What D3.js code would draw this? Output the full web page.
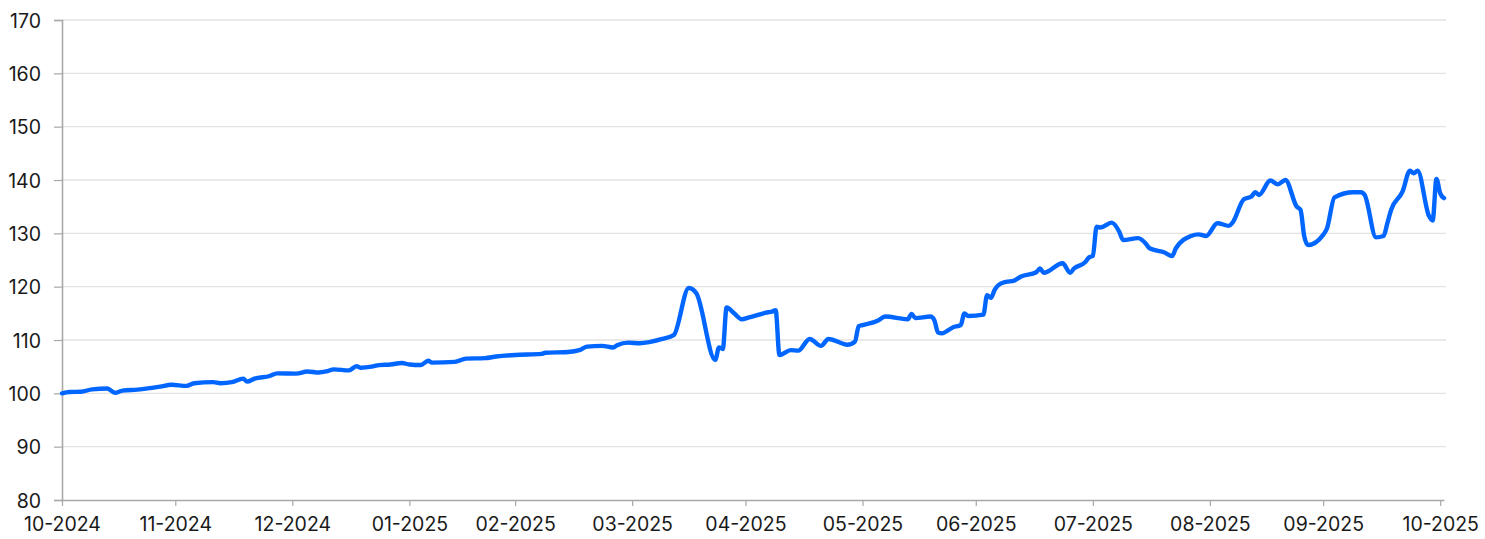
<!DOCTYPE html>
<html>
<head>
<meta charset="utf-8">
<script src="https://cdn.jsdelivr.net/npm/d3@7"></script>
<style>
  html, body { margin: 0; padding: 0; background: #ffffff; }
  svg { display: block; }
  .tick text { font-family: "Inter", "Liberation Sans", Arial, sans-serif; font-size: 19.5px; fill: #1a1a1a; }
</style>
</head>
<body>
<svg id="chart" width="1485" height="539"></svg>
<script>
// ---- data ----
const dates = [
  "2024-10-31","2024-11-02","2024-11-05","2024-11-08","2024-11-12","2024-11-14","2024-11-16","2024-11-20","2024-11-26","2024-11-29",
  "2024-12-03","2024-12-05","2024-12-10","2024-12-12","2024-12-15","2024-12-18","2024-12-19","2024-12-21","2024-12-25","2024-12-27",
  "2025-01-01","2025-01-04","2025-01-07","2025-01-09","2025-01-11","2025-01-15","2025-01-17","2025-01-18","2025-01-21","2025-01-23",
  "2025-01-26","2025-01-29","2025-01-31","2025-02-03","2025-02-05","2025-02-06","2025-02-12","2025-02-15","2025-02-20","2025-02-23",
  "2025-02-28","2025-03-07","2025-03-08","2025-03-14","2025-03-17","2025-03-19","2025-03-23","2025-03-26","2025-03-27","2025-03-30",
  "2025-04-02","2025-04-08","2025-04-11","2025-04-15","2025-04-17","2025-04-22","2025-04-23","2025-04-24","2025-04-25","2025-04-27",
  "2025-04-29","2025-05-01","2025-05-06","2025-05-07","2025-05-08","2025-05-09","2025-05-12","2025-05-14","2025-05-17","2025-05-20",
  "2025-05-22","2025-05-27","2025-05-29","2025-05-30","2025-05-31","2025-06-04","2025-06-06","2025-06-12","2025-06-13","2025-06-14",
  "2025-06-18","2025-06-19","2025-06-20","2025-06-21","2025-06-24","2025-06-26","2025-06-27","2025-06-28","2025-07-02","2025-07-03",
  "2025-07-04","2025-07-05","2025-07-06","2025-07-08","2025-07-10","2025-07-12","2025-07-16","2025-07-17","2025-07-18","2025-07-23",
  "2025-07-25","2025-07-26","2025-07-29","2025-07-30","2025-07-31","2025-08-01","2025-08-02","2025-08-05","2025-08-07","2025-08-08",
  "2025-08-12","2025-08-14","2025-08-15","2025-08-19","2025-08-21","2025-08-22","2025-08-26","2025-08-28","2025-08-30","2025-09-02",
  "2025-09-05","2025-09-06","2025-09-09","2025-09-11","2025-09-12","2025-09-13","2025-09-16","2025-09-18","2025-09-20","2025-09-23",
  "2025-09-24","2025-09-25","2025-09-26","2025-09-30","2025-10-01","2025-10-03","2025-10-08","2025-10-10","2025-10-11","2025-10-14",
  "2025-10-16","2025-10-17","2025-10-18","2025-10-21","2025-10-23","2025-10-24","2025-10-25","2025-10-28","2025-10-29","2025-10-30",
  "2025-10-31","2025-11-01"
];
const values = [
  100.0,100.25,100.3,100.75,100.9,100.1,100.5,100.7,101.25,101.6,
  101.4,101.9,102.1,101.9,102.1,102.75,102.2,102.75,103.25,103.75,
  103.7,104.1,103.9,104.1,104.5,104.3,105.1,104.8,105.0,105.3,
  105.4,105.7,105.4,105.3,106.1,105.75,105.9,106.5,106.6,106.9,
  107.2,107.4,107.6,107.75,108.1,108.75,108.9,108.6,109.0,109.5,
  109.4,110.2,110.9,119.75,118.75,106.25,108.6,108.3,116.1,115.0,
  113.9,114.25,115.2,115.3,115.6,107.2,108.1,108.0,110.2,108.9,
  110.2,109.1,109.7,112.6,112.8,113.6,114.4,113.9,114.9,114.1,
  114.4,113.75,111.4,111.25,112.4,112.8,115.0,114.5,114.75,118.4,
  117.9,119.4,120.3,120.9,121.1,121.9,122.7,123.4,122.6,124.4,
  122.6,123.4,124.6,125.5,125.75,131.25,131.1,132.0,130.3,128.75,
  129.1,128.1,127.2,126.4,125.75,127.2,129.5,129.8,129.5,131.9,
  131.4,132.0,136.4,136.9,137.7,137.2,139.9,139.2,140.0,135.0,
  134.4,129.4,127.8,129.7,130.9,136.75,137.7,137.7,137.2,129.25,
  129.5,131.9,134.4,137.8,141.75,141.25,141.75,133.3,132.4,140.2,
  137.5,136.6
];
const xTickDates = [
  "2024-10-31","2024-11-30","2024-12-31","2025-01-31","2025-02-28","2025-03-31",
  "2025-04-30","2025-05-31","2025-06-30","2025-07-31","2025-08-31","2025-09-30","2025-10-31"
];
const yTicks = [80, 90, 100, 110, 120, 130, 140, 150, 160, 170];
const xDomain = ["2024-10-31", "2025-11-01"];

// ---- drawing ----
const parse = d3.timeParse("%Y-%m-%d");
const fmt = d3.timeFormat("%m-%Y");
const data = dates.map((d, i) => ({ date: parse(d), value: values[i] }));

const margin = { left: 62, right: 41, top: 20, bottom: 39 };
const W = 1485, H = 539;
const svg = d3.select("#chart");

const x = d3.scaleTime()
  .domain(xDomain.map(parse))
  .range([margin.left, W - margin.right]);
const y = d3.scaleLinear()
  .domain([80, 170])
  .range([H - margin.bottom, margin.top]);

// gridlines
svg.append("g")
  .selectAll("line")
  .data(yTicks.filter(t => t !== 80))
  .join("line")
  .attr("x1", margin.left)
  .attr("x2", W - margin.right + 2)
  .attr("y1", d => y(d))
  .attr("y2", d => y(d))
  .attr("stroke", "#e2e2e2")
  .attr("stroke-width", 1.3);

// y axis
const yAxis = svg.append("g")
  .attr("transform", `translate(${margin.left},0)`)
  .call(d3.axisLeft(y).tickValues(yTicks).tickSize(8).tickPadding(13).tickFormat(d3.format("d")));
yAxis.select(".domain").attr("stroke", "#a8a8a8").attr("stroke-width", 1.6);
yAxis.selectAll(".tick line").attr("stroke", "#a8a8a8").attr("stroke-width", 1.2);
yAxis.selectAll(".tick text").attr("dy", "0.36em");

// x axis
const xAxis = svg.append("g")
  .attr("transform", `translate(0,${H - margin.bottom})`)
  .call(d3.axisBottom(x).tickValues(xTickDates.map(parse)).tickSize(6).tickPadding(11).tickFormat(fmt).tickSizeOuter(0));
xAxis.select(".domain").attr("stroke", "#a8a8a8").attr("stroke-width", 1.6);
xAxis.selectAll(".tick line").attr("stroke", "#a8a8a8").attr("stroke-width", 1.2);

// line
const line = d3.line()
  .x(d => x(d.date))
  .y(d => y(d.value))
  .curve(d3.curveMonotoneX);

svg.append("path")
  .datum(data)
  .attr("fill", "none")
  .attr("stroke", "#0066ff")
  .attr("stroke-width", 4.4)
  .attr("stroke-linejoin", "round")
  .attr("stroke-linecap", "round")
  .attr("d", line);
</script>
</body>
</html>
